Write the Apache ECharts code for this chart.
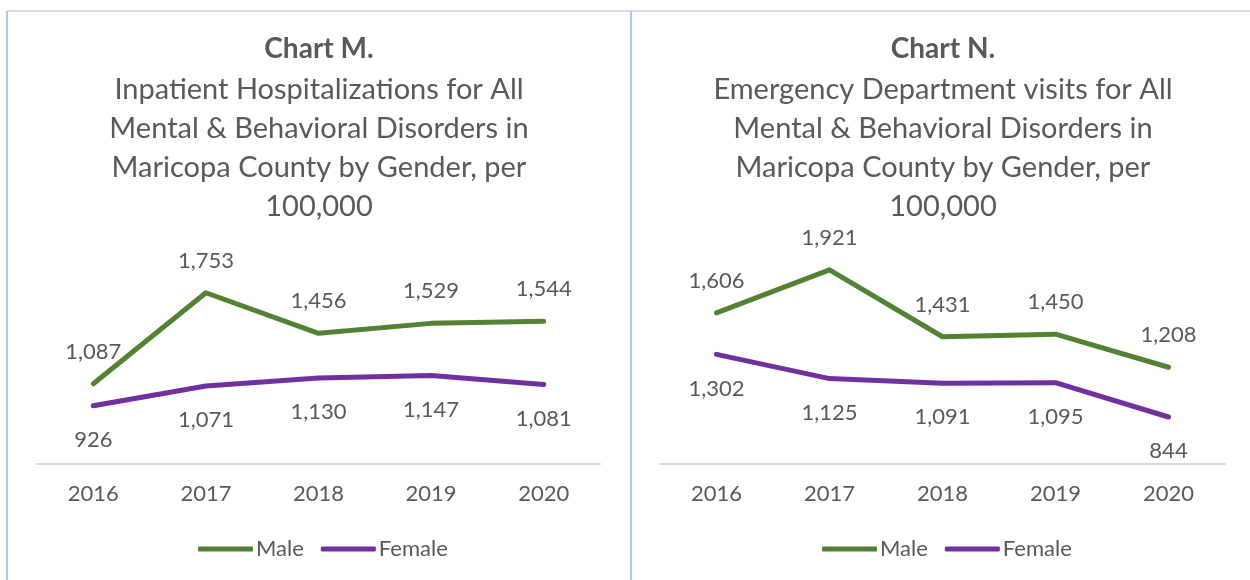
<!DOCTYPE html>
<html>
<head>
<meta charset="utf-8">
<script src="https://cdn.jsdelivr.net/npm/echarts@6/dist/echarts.min.js"></script>
<style>
  html, body { margin: 0; padding: 0; background: #fff; }
  #main { width: 1250px; height: 580px; }
</style>
</head>
<body>
<div id="main"></div>
<script>
const years = ['2016', '2017', '2018', '2019', '2020'];

// Chart M - inpatient hospitalizations
const inpatientMale = [1087, 1753, 1456, 1529, 1544];
const inpatientFemale = [926, 1071, 1130, 1147, 1081];

// Chart N - emergency department visits
const edMale = [1606, 1921, 1431, 1450, 1208];
const edFemale = [1302, 1125, 1091, 1095, 844];

const titlesM = ['Chart M.', 'Inpatient Hospitalizations for All\nMental & Behavioral Disorders in\nMaricopa County by Gender, per\n100,000'];
const titlesN = ['Chart N.', 'Emergency Department visits for All\nMental & Behavioral Disorders in\nMaricopa County by Gender, per\n100,000'];

const chart = echarts.init(document.getElementById('main'));

const FONT = 'Lato, "Open Sans", sans-serif';
const GREEN = '#548235';
const PURPLE = '#7030a0';
const TEXT = '#595959';

const fmt = p => p.value.toLocaleString('en-US');

function makeSeries(name, data, color, idx, above) {
    return {
        name: name,
        type: 'line',
        xAxisIndex: idx,
        yAxisIndex: idx,
        data: data,
        symbol: 'circle',
        symbolSize: 0.1,
        lineStyle: { color: color, width: 5, cap: 'round', join: 'round' },
        itemStyle: { color: color },
        label: {
            show: true,
            position: above ? 'top' : 'bottom',
            distance: above ? 21 : 23,
            formatter: fmt,
            color: TEXT,
            fontSize: 22,
            fontFamily: FONT
        },
        emphasis: { disabled: true }
    };
}

function xAxis(idx) {
    return {
        type: 'category',
        gridIndex: idx,
        data: years,
        boundaryGap: true,
        axisLine: { lineStyle: { color: '#d9d9d9', width: 2 } },
        axisTick: { show: false },
        axisLabel: { color: TEXT, fontSize: 22, fontFamily: FONT, margin: 19 }
    };
}

function yAxis(idx) {
    return { type: 'value', gridIndex: idx, min: 500, max: 2000, show: false, splitLine: { show: false } };
}

function titleGraphics(lines, cx) {
    return [
        { type: 'text', x: cx, y: 35, style: { text: lines[0], fill: TEXT, font: 'bold 28px ' + FONT, textAlign: 'center' } },
        { type: 'text', x: cx, y: 70, style: { text: lines[1], fill: TEXT, font: '29px ' + FONT, lineHeight: 39, textAlign: 'center' } }
    ];
}

function legend(left) {
    return {
        left: left,
        top: 533,
        data: ['Male', 'Female'],
        icon: 'roundRect',
        itemWidth: 55,
        itemHeight: 5,
        itemGap: 17,
        textStyle: { color: TEXT, fontSize: 22, fontFamily: FONT, padding: [0, 0, 0, -2] },
        selectedMode: false
    };
}

chart.setOption({
    animation: false,
    graphic: [
        { type: 'line', shape: { x1: 7, y1: 11, x2: 1250, y2: 11 }, style: { stroke: '#c9d3e8', lineWidth: 1.5 } },
        { type: 'line', shape: { x1: 7, y1: 11, x2: 7, y2: 580 }, style: { stroke: '#b4c7e7', lineWidth: 2 } },
        { type: 'line', shape: { x1: 631, y1: 11, x2: 631, y2: 580 }, style: { stroke: '#b4c7e7', lineWidth: 2 } },
        ...titleGraphics(titlesM, 319),
        ...titleGraphics(titlesN, 943)
    ],
    grid: [
        { left: 37, right: 650, top: 259, bottom: 116 },
        { left: 660, right: 25, top: 259, bottom: 116 }
    ],
    xAxis: [xAxis(0), xAxis(1)],
    yAxis: [yAxis(0), yAxis(1)],
    legend: [legend(193), legend(817)],
    series: [
        makeSeries('Male', inpatientMale, GREEN, 0, true),
        makeSeries('Female', inpatientFemale, PURPLE, 0, false),
        makeSeries('Male', edMale, GREEN, 1, true),
        makeSeries('Female', edFemale, PURPLE, 1, false)
    ]
});

window.onresize = () => chart.resize();
</script>
</body>
</html>
